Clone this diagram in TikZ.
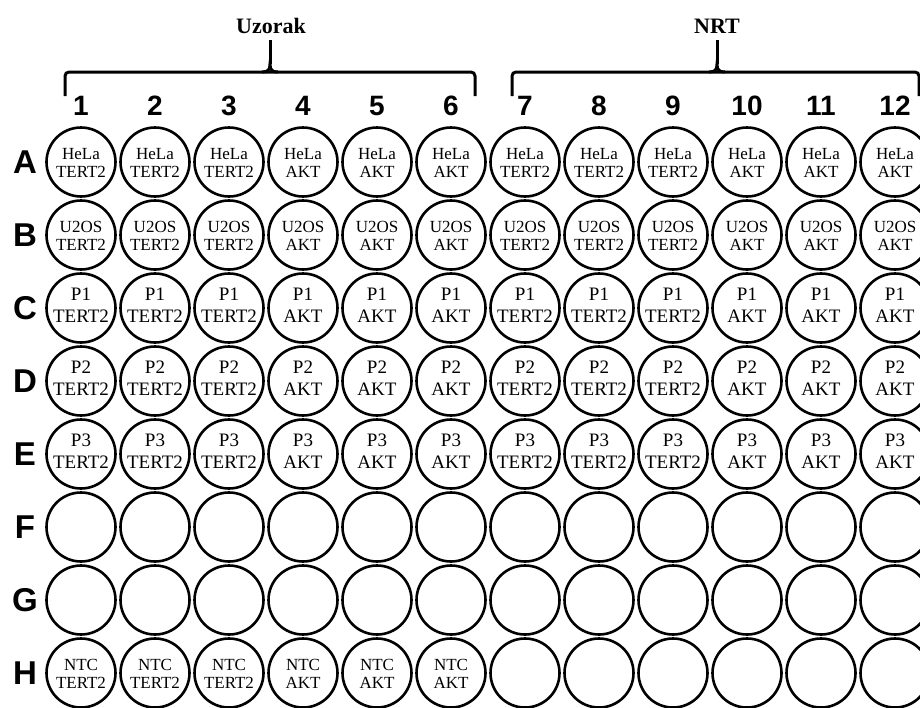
\documentclass[tikz,border=0pt]{standalone}
\usepackage{fontspec}
\setmainfont{Liberation Serif}
\newfontfamily\headfont{Liberation Sans}
\usetikzlibrary{calc}
\tikzset{
  well/.style={draw,circle,line width=2.6pt,minimum size=69pt,inner sep=0pt},
  wtxt/.style={align=center,inner sep=0pt,yshift=-1pt,font=\fontsize{17}{18}\selectfont},
  wtxtlg/.style={align=center,inner sep=0pt,yshift=3pt,font=\fontsize{19}{22}\selectfont},
  rowlab/.style={font=\headfont\bfseries\fontsize{33}{33}\selectfont},
  collab/.style={font=\headfont\bfseries\fontsize{28}{28}\selectfont},
  grp/.style={font=\bfseries\fontsize{22}{22}\selectfont},
  brk/.style={line width=3pt,rounded corners=4pt},
  spk/.style={line width=3pt},
}
\begin{document}
\begin{tikzpicture}[x=1pt,y=-1pt]
\useasboundingbox (0,0) rectangle (920,707);
\clip (0,0) rectangle (920,707);
% group headings
\node[grp] (g-uz) at (271,26) {Uzorak};
\node[grp] (g-nrt) at (717,26) {NRT};
\draw[brk] (65,96) -- (65,72) -- (475,72) -- (475,96);
\draw[spk] (270,40) -- (270,64);
\draw[spk] (262,72) .. controls (268,72) and (270,70) .. (270,64) .. controls (270,70) and (272,72) .. (278,72);
\draw[brk] (512,96) -- (512,72) -- (919,72) -- (919,96);
\draw[spk] (717,40) -- (717,64);
\draw[spk] (709,72) .. controls (715,72) and (717,70) .. (717,64) .. controls (717,70) and (719,72) .. (725,72);
% column numbers
\foreach \c in {1,...,12}
  \node[collab] (col-\c) at ({81+74*(\c-1)},106) {\c};
% rows of wells
\foreach \r/\s/\n/\st [count=\i from 0] in {A/HeLa/12/wtxt, B/U2OS/12/wtxt, C/P1/12/wtxtlg, D/P2/12/wtxtlg, E/P3/12/wtxtlg, F//0/wtxt, G//0/wtxt, H/NTC/6/wtxt}{
  \node[rowlab] (row-\r) at (25,{162+73*\i}) {\r};
  \foreach \c in {1,...,12}{
    \node[well] (w-\r-\c) at ({81+74*(\c-1)},{162+73*\i}) {};
    \ifnum\c>\n\relax\else
      \pgfmathtruncatemacro{\k}{mod(\c-1,6)<3}
      \node[\st] (t-\r-\c) at (w-\r-\c) {\s\\\ifnum\k=1 TERT2\else AKT\fi};
    \fi
  }
}
\end{tikzpicture}
\end{document}
